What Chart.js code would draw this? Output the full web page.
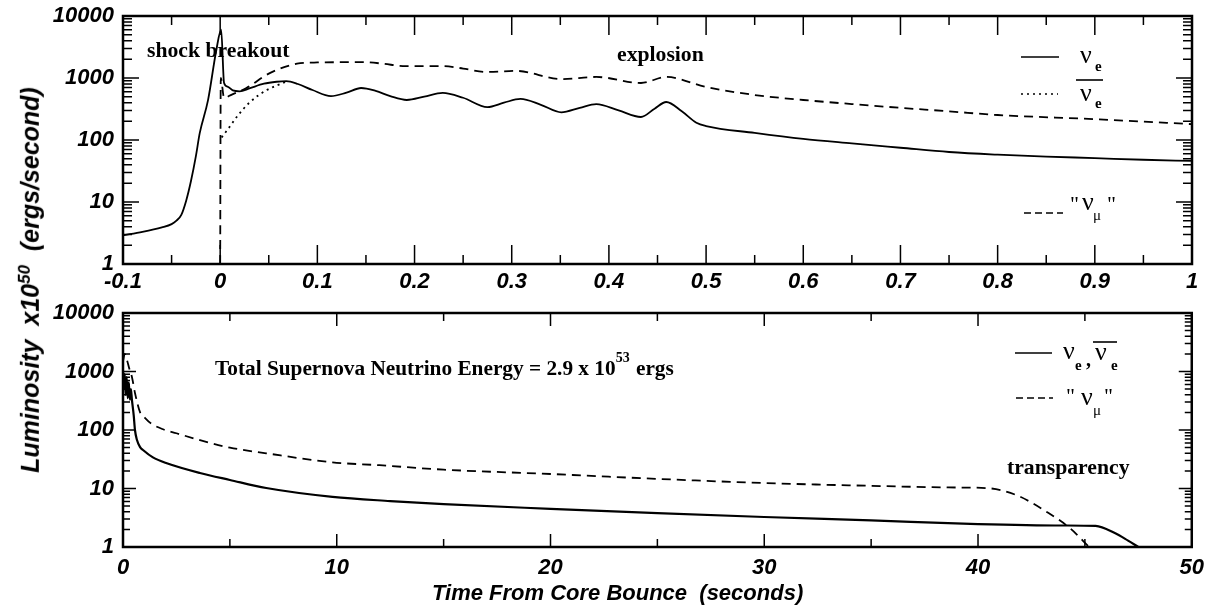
<!DOCTYPE html>
<html>
<head>
<meta charset="utf-8">
<script src="https://cdn.jsdelivr.net/npm/chart.js@4.4.1/dist/chart.umd.min.js"></script>
<style>
  body { margin: 0; background: #fff; width: 1212px; height: 610px; position: relative; overflow: hidden; }
  canvas { position: absolute; left: 0; }
  #top { top: 0; }
  #bot { top: 300px; }
  #ytitle {
    position: absolute; left: 30px; top: 280px;
    transform: translate(-50%, -50%) rotate(-90deg);
    font: italic bold 25px "Liberation Sans", Arial, sans-serif;
    white-space: nowrap; color: #000;
  }
  #ytitle sup { font-size: 17px; }
</style>
</head>
<body>
<canvas id="top" width="1212" height="300"></canvas>
<canvas id="bot" width="1212" height="310"></canvas>
<div id="ytitle">Luminosity&nbsp; x10<sup>50</sup>&nbsp; (ergs/second)</div>

<script>
// ---- data ----
// top panel: first second after bounce
const topTicksX = [-0.1, 0, 0.1, 0.2, 0.3, 0.4, 0.5, 0.6, 0.7, 0.8, 0.9, 1];
const nueTopT = [-0.1, -0.08, -0.06, -0.05, -0.045, -0.04, -0.035, -0.03, -0.025, -0.021, -0.0125, -0.004,
  0.001, 0.004, 0.008, 0.013, 0.02, 0.03, 0.045, 0.058, 0.068, 0.08, 0.095, 0.114, 0.13, 0.145, 0.16, 0.175,
  0.192, 0.21, 0.229, 0.25, 0.275, 0.292, 0.309, 0.33, 0.351, 0.37, 0.387, 0.41, 0.433, 0.447, 0.459, 0.475,
  0.49, 0.5, 0.55, 0.6, 0.65, 0.7, 0.75, 0.8, 0.85, 0.9, 0.95, 1.0];
const nueTopL = [2.9, 3.3, 3.9, 4.4, 5.0, 6.2, 10.5, 22, 55, 130, 440, 2800,
  6000, 830, 720, 630, 610, 680, 810, 870, 890, 800, 640, 510, 580, 690, 620, 510,
  442, 500, 575, 480, 340, 400, 460, 370, 280, 330, 380, 300, 235, 320, 410, 290,
  190, 168, 130, 104, 88, 75, 64, 58, 54, 51, 48, 46];
const nuebarTopT = [0.0015, 0.008, 0.017, 0.03, 0.048, 0.068];
const nuebarTopL = [110, 150, 235, 400, 640, 870];
const numuTopT = [0, 0.0006, 0.004, 0.012, 0.027, 0.051, 0.079, 0.1, 0.147, 0.168, 0.188, 0.229, 0.25, 0.274,
  0.305, 0.351, 0.387, 0.433, 0.459, 0.5, 0.55, 0.6, 0.65, 0.7, 0.75, 0.8, 0.9, 1.0];
const numuTopL = [1, 1000, 480, 540, 690, 1200, 1700, 1780, 1800, 1700, 1560, 1560, 1420, 1250,
  1300, 960, 1040, 830, 1040, 716, 532, 442, 380, 330, 290, 253, 217, 180];

// bottom panel: whole 50 s
const botTicksX = [0, 10, 20, 30, 40, 50];
const nueBotT = [0, 0.04, 0.08, 0.12, 0.17, 0.22, 0.27, 0.32, 0.37, 0.42, 0.5, 0.56, 0.65, 0.8, 0.95,
  1.4, 2.05, 3.6, 5, 6.7, 9.8, 12.5, 15, 20, 25, 30, 35, 40, 44, 45.5, 46.4, 47, 47.5];
const nueBotL = [1000, 500, 900, 400, 800, 350, 650, 330, 500, 320, 180, 100, 68, 51, 45,
  34, 27, 18.4, 14, 10.2, 7.2, 6.1, 5.4, 4.5, 3.8, 3.26, 2.85, 2.47, 2.33, 2.29, 1.73, 1.3, 1.0];
const numuBotT = [0, 0.08, 0.18, 0.3, 0.42, 0.56, 0.8, 1.0, 1.3, 1.9, 2.5, 3.6, 5, 6.7, 9.8, 12, 15, 20,
  25, 30, 35, 39, 40.5, 41.8, 43.3, 44.3, 45.2];
const numuBotL = [1500, 2000, 1600, 1100, 800, 430, 200, 165, 130, 102, 88, 67, 50, 40, 28, 25, 21, 17.7,
  14.6, 12.4, 11.1, 10.4, 10.1, 7.7, 3.8, 2.1, 1.0];

const decadeTicks = [1, 10, 100, 1000, 10000];

// ---- helpers ----
const SANS = '"Liberation Sans", Arial, sans-serif';
const SERIF = '"Liberation Serif", "Times New Roman", serif';
const tickFont = { family: SANS, size: 22, weight: 'bold', style: 'italic' };
// tiny lineHeight so the end labels do not push the plot box inwards
const yTickFont = { family: SANS, size: 22, weight: 'bold', style: 'italic', lineHeight: 0.3 };

const pts = (ts, ls) => ts.map((t, i) => ({ x: t, y: ls[i] }));

function line(data, dash, width) {
  return {
    data, borderColor: '#000', borderWidth: width || 1.8, borderDash: dash || [],
    pointRadius: 0, fill: false, cubicInterpolationMode: 'monotone'
  };
}

function minorOf(major) {
  const out = [];
  for (let i = 0; i < major.length - 1; i++) out.push((major[i] + major[i + 1]) / 2);
  return out;
}
const logMinor = [];
decadeTicks.slice(0, -1).forEach(d => { for (let k = 2; k <= 9; k++) logMinor.push(d * k); });

// inward tick marks + box, like the old paw/hbook plots
function makeFrame(id, xMajor, xMaj, xMin, yMaj, yMin) {
  const xMinor = minorOf(xMajor);
  return {
    id,
    afterDatasetsDraw(chart) {
      const { ctx, chartArea: a, scales: { x, y } } = chart;
      ctx.save();
      ctx.strokeStyle = '#000';
      ctx.lineWidth = 1.5;
      ctx.setLineDash([]);
      ctx.beginPath();
      const xt = (v, len) => {
        const p = x.getPixelForValue(v);
        ctx.moveTo(p, a.bottom); ctx.lineTo(p, a.bottom - len);
        ctx.moveTo(p, a.top); ctx.lineTo(p, a.top + len);
      };
      const yt = (v, len) => {
        const p = y.getPixelForValue(v);
        ctx.moveTo(a.left, p); ctx.lineTo(a.left + len, p);
        ctx.moveTo(a.right, p); ctx.lineTo(a.right - len, p);
      };
      xMajor.forEach(v => xt(v, xMaj));
      xMinor.forEach(v => xt(v, xMin));
      decadeTicks.forEach(v => yt(v, yMaj));
      logMinor.forEach(v => yt(v, yMin));
      ctx.stroke();
      ctx.lineWidth = 2.5;
      ctx.strokeRect(a.left, a.top, a.width, a.height);
      ctx.restore();
    }
  };
}

function seg(ctx, x1, x2, y, dash) {
  ctx.save();
  ctx.lineWidth = 1.6;
  ctx.setLineDash(dash || []);
  ctx.beginPath(); ctx.moveTo(x1, y); ctx.lineTo(x2, y); ctx.stroke();
  ctx.restore();
}
function txt(ctx, s, x, y, font) {
  ctx.font = font;
  ctx.fillText(s, x, y);
  return x + ctx.measureText(s).width;
}
const NU = '26px ' + SERIF;
const SUB = 'bold 15px ' + SERIF;
const SUBR = '15px ' + SERIF;
const NOTE = 'bold 21.7px ' + SERIF;
const NOTE2 = 'bold 21.3px ' + SERIF;

const topNotes = {
  id: 'topNotes',
  afterDraw(chart) {
    const ctx = chart.ctx;
    ctx.save();
    ctx.fillStyle = '#000'; ctx.strokeStyle = '#000';
    ctx.textBaseline = 'alphabetic'; ctx.textAlign = 'left';
    txt(ctx, 'shock breakout', 147, 57, NOTE);
    txt(ctx, 'explosion', 617, 61, NOTE);
    // legend
    seg(ctx, 1021, 1059, 57);
    txt(ctx, 'ν', 1080, 63, NU); txt(ctx, 'e', 1095, 71, SUB);
    seg(ctx, 1076, 1103, 80);
    seg(ctx, 1021, 1058, 94, [2, 4]);
    txt(ctx, 'ν', 1080, 101, NU); txt(ctx, 'e', 1095, 108, SUB);
    seg(ctx, 1024, 1063, 213, [7, 4]);
    txt(ctx, '"', 1070, 211, '22px ' + SERIF);
    txt(ctx, 'ν', 1082, 210, NU); txt(ctx, 'μ', 1093, 220, SUBR);
    txt(ctx, '"', 1107, 211, '22px ' + SERIF);
    ctx.restore();
  }
};

const botNotes = {
  id: 'botNotes',
  afterDraw(chart) {
    const ctx = chart.ctx;
    ctx.save();
    ctx.fillStyle = '#000'; ctx.strokeStyle = '#000';
    ctx.textBaseline = 'alphabetic'; ctx.textAlign = 'left';
    let x = txt(ctx, 'Total Supernova Neutrino Energy = 2.9 x 10', 215, 75, NOTE2);
    x = txt(ctx, '53', x, 62, 'bold 14px ' + SERIF);
    txt(ctx, ' ergs', x + 1, 75, NOTE2);
    txt(ctx, 'transparency', 1007, 174, NOTE);
    // legend
    seg(ctx, 1015, 1052, 53);
    txt(ctx, 'ν', 1063, 59, NU); txt(ctx, 'e', 1075, 70, SUB);
    txt(ctx, ',', 1086, 66, 'bold 20px ' + SERIF);
    txt(ctx, 'ν', 1095, 60, NU); txt(ctx, 'e', 1111, 70, SUB);
    seg(ctx, 1093, 1117, 42);
    seg(ctx, 1016, 1053, 98, [7, 4]);
    txt(ctx, '"', 1066, 103, '22px ' + SERIF);
    txt(ctx, 'ν', 1081, 105, NU); txt(ctx, 'μ', 1093, 115, SUBR);
    txt(ctx, '"', 1104, 103, '22px ' + SERIF);
    // axis title
    txt(ctx, 'Time From Core Bounce  (seconds)', 432, 300, 'italic bold 22px ' + SANS);
    ctx.restore();
  }
};

function options(xmin, xmax, xTicks, xHeight, xPad, pad) {
  return {
    responsive: false,
    animation: false,
    devicePixelRatio: 1,
    layout: { padding: pad },
    plugins: { legend: { display: false }, tooltip: { enabled: false } },
    scales: {
      x: {
        type: 'linear', min: xmin, max: xmax,
        grid: { display: false, drawTicks: false }, border: { display: false },
        afterBuildTicks: s => { s.ticks = xTicks.map(v => ({ value: v })); },
        afterFit: s => { s.height = xHeight; },
        ticks: { color: '#000', font: tickFont, padding: xPad, maxRotation: 0, autoSkip: false, callback: v => String(v) }
      },
      y: {
        type: 'logarithmic', min: 1, max: 10000,
        grid: { display: false, drawTicks: false }, border: { display: false },
        afterBuildTicks: s => { s.ticks = decadeTicks.map(v => ({ value: v })); },
        afterFit: s => { s.width = 123; },
        ticks: { color: '#000', font: yTickFont, padding: 9, autoSkip: false, callback: v => String(v) }
      }
    }
  };
}

new Chart(document.getElementById('top'), {
  type: 'line',
  data: {
    datasets: [
      line(pts(nueTopT, nueTopL), [], 1.8),
      line(pts(nuebarTopT, nuebarTopL), [2, 4], 1.8),
      line(pts(numuTopT, numuTopL), [9, 6], 1.8)
    ]
  },
  options: options(-0.1, 1, topTicksX, 36, 5, { top: 16, right: 20, left: 0, bottom: 0 }),
  plugins: [makeFrame('topFrame', topTicksX, 19, 9, 16, 9), topNotes]
});

new Chart(document.getElementById('bot'), {
  type: 'line',
  data: {
    datasets: [
      line(pts(nueBotT, nueBotL), [], 2.2),
      line(pts(numuBotT, numuBotL), [9, 6], 1.8)
    ]
  },
  options: options(0, 50, botTicksX, 63, 8, { top: 13, right: 19, left: 0, bottom: 0 }),
  plugins: [makeFrame('botFrame', botTicksX, 13, 8, 13, 7), botNotes]
});
</script>
</body>
</html>
